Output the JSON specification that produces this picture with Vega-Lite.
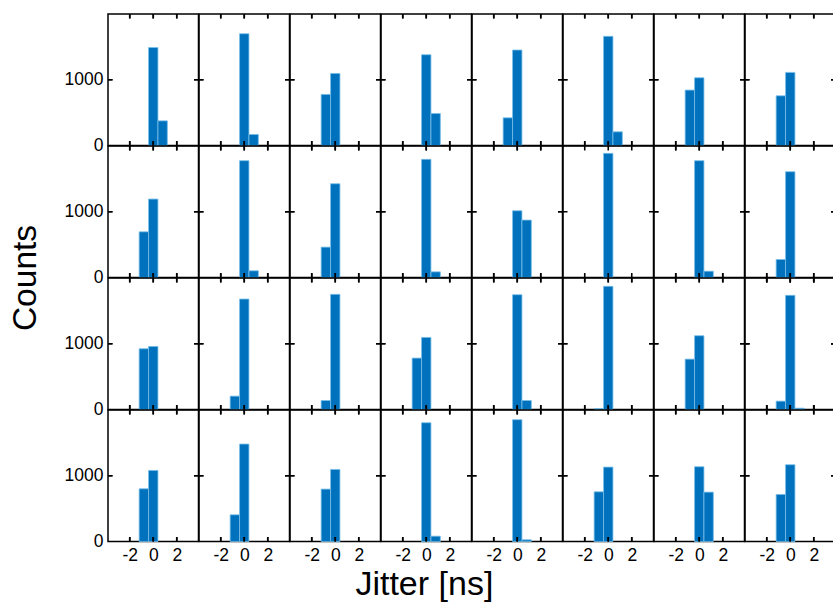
{
  "$schema": "https://vega.github.io/schema/vega-lite/v6.json",
  "padding": {"left": 8, "top": 12, "right": 0, "bottom": 0},
  "data": {
    "values": [
      {"r": 1, "c": 1, "lo": -0.4, "hi": 0.4, "n": 1490},
      {"r": 1, "c": 1, "lo": 0.4, "hi": 1.2, "n": 375},
      {"r": 1, "c": 2, "lo": -0.4, "hi": 0.4, "n": 1700},
      {"r": 1, "c": 2, "lo": 0.4, "hi": 1.2, "n": 168},
      {"r": 1, "c": 3, "lo": -1.2, "hi": -0.4, "n": 777},
      {"r": 1, "c": 3, "lo": -0.4, "hi": 0.4, "n": 1096},
      {"r": 1, "c": 4, "lo": -0.4, "hi": 0.4, "n": 1381},
      {"r": 1, "c": 4, "lo": 0.4, "hi": 1.2, "n": 487},
      {"r": 1, "c": 5, "lo": -1.2, "hi": -0.4, "n": 421},
      {"r": 1, "c": 5, "lo": -0.4, "hi": 0.4, "n": 1452},
      {"r": 1, "c": 6, "lo": -0.4, "hi": 0.4, "n": 1660},
      {"r": 1, "c": 6, "lo": 0.4, "hi": 1.2, "n": 208},
      {"r": 1, "c": 7, "lo": -1.2, "hi": -0.4, "n": 843},
      {"r": 1, "c": 7, "lo": -0.4, "hi": 0.4, "n": 1030},
      {"r": 1, "c": 8, "lo": -1.2, "hi": -0.4, "n": 756},
      {"r": 1, "c": 8, "lo": -0.4, "hi": 0.4, "n": 1112},
      {"r": 2, "c": 1, "lo": -1.2, "hi": -0.4, "n": 695},
      {"r": 2, "c": 1, "lo": -0.4, "hi": 0.4, "n": 1193},
      {"r": 2, "c": 2, "lo": -0.4, "hi": 0.4, "n": 1777},
      {"r": 2, "c": 2, "lo": 0.4, "hi": 1.2, "n": 102},
      {"r": 2, "c": 3, "lo": -1.2, "hi": -0.4, "n": 462},
      {"r": 2, "c": 3, "lo": -0.4, "hi": 0.4, "n": 1426},
      {"r": 2, "c": 4, "lo": -0.4, "hi": 0.4, "n": 1797},
      {"r": 2, "c": 4, "lo": 0.4, "hi": 1.2, "n": 86},
      {"r": 2, "c": 5, "lo": -0.4, "hi": 0.4, "n": 1015},
      {"r": 2, "c": 5, "lo": 0.4, "hi": 1.2, "n": 873},
      {"r": 2, "c": 6, "lo": -0.4, "hi": 0.4, "n": 1888},
      {"r": 2, "c": 7, "lo": -0.4, "hi": 0.4, "n": 1777},
      {"r": 2, "c": 7, "lo": 0.4, "hi": 1.2, "n": 96},
      {"r": 2, "c": 8, "lo": -1.2, "hi": -0.4, "n": 274},
      {"r": 2, "c": 8, "lo": -0.4, "hi": 0.4, "n": 1609},
      {"r": 3, "c": 1, "lo": -1.2, "hi": -0.4, "n": 924},
      {"r": 3, "c": 1, "lo": -0.4, "hi": 0.4, "n": 959},
      {"r": 3, "c": 2, "lo": -1.2, "hi": -0.4, "n": 203},
      {"r": 3, "c": 2, "lo": -0.4, "hi": 0.4, "n": 1680},
      {"r": 3, "c": 3, "lo": -1.2, "hi": -0.4, "n": 137},
      {"r": 3, "c": 3, "lo": -0.4, "hi": 0.4, "n": 1751},
      {"r": 3, "c": 4, "lo": -1.2, "hi": -0.4, "n": 782},
      {"r": 3, "c": 4, "lo": -0.4, "hi": 0.4, "n": 1096},
      {"r": 3, "c": 5, "lo": -0.4, "hi": 0.4, "n": 1746},
      {"r": 3, "c": 5, "lo": 0.4, "hi": 1.2, "n": 137},
      {"r": 3, "c": 6, "lo": -1.2, "hi": -0.4, "n": 15},
      {"r": 3, "c": 6, "lo": -0.4, "hi": 0.4, "n": 1873},
      {"r": 3, "c": 7, "lo": -1.2, "hi": -0.4, "n": 766},
      {"r": 3, "c": 7, "lo": -0.4, "hi": 0.4, "n": 1122},
      {"r": 3, "c": 8, "lo": -1.2, "hi": -0.4, "n": 127},
      {"r": 3, "c": 8, "lo": -0.4, "hi": 0.4, "n": 1736},
      {"r": 3, "c": 8, "lo": 0.4, "hi": 1.2, "n": 20},
      {"r": 4, "c": 1, "lo": -1.2, "hi": -0.4, "n": 802},
      {"r": 4, "c": 1, "lo": -0.4, "hi": 0.4, "n": 1081},
      {"r": 4, "c": 2, "lo": -1.2, "hi": -0.4, "n": 406},
      {"r": 4, "c": 2, "lo": -0.4, "hi": 0.4, "n": 1482},
      {"r": 4, "c": 3, "lo": -1.2, "hi": -0.4, "n": 797},
      {"r": 4, "c": 3, "lo": -0.4, "hi": 0.4, "n": 1096},
      {"r": 4, "c": 4, "lo": -0.4, "hi": 0.4, "n": 1807},
      {"r": 4, "c": 4, "lo": 0.4, "hi": 1.2, "n": 81},
      {"r": 4, "c": 5, "lo": -0.4, "hi": 0.4, "n": 1853},
      {"r": 4, "c": 5, "lo": 0.4, "hi": 1.2, "n": 25},
      {"r": 4, "c": 6, "lo": -1.2, "hi": -0.4, "n": 756},
      {"r": 4, "c": 6, "lo": -0.4, "hi": 0.4, "n": 1132},
      {"r": 4, "c": 7, "lo": -0.4, "hi": 0.4, "n": 1137},
      {"r": 4, "c": 7, "lo": 0.4, "hi": 1.2, "n": 751},
      {"r": 4, "c": 8, "lo": -1.2, "hi": -0.4, "n": 716},
      {"r": 4, "c": 8, "lo": -0.4, "hi": 0.4, "n": 1168}
    ]
  },
  "title": {
    "text": "Jitter [ns]",
    "orient": "bottom",
    "anchor": "middle",
    "font": "Liberation Sans",
    "fontSize": 34,
    "fontWeight": "normal",
    "color": "black",
    "offset": 4,
    "dx": 2
  },
  "facet": {
    "row": {
      "field": "r",
      "type": "ordinal",
      "header": {
        "labels": false,
        "title": "Counts",
        "titleFont": "Liberation Sans",
        "titleFontSize": 33.5,
        "titleFontWeight": "normal",
        "titleColor": "black",
        "titlePadding": 11
      }
    },
    "column": {
      "field": "c",
      "type": "ordinal",
      "header": {"labels": false, "title": null}
    }
  },
  "spacing": 0,
  "bounds": "flush",
  "spec": {
    "width": 90.5,
    "height": 131.5,
    "layer": [
      {
        "mark": {"type": "rect", "color": "#0072BD", "stroke": "#79bfea", "strokeWidth": 0.8},
        "encoding": {
          "x": {
            "field": "lo",
            "type": "quantitative",
            "scale": {"domain": [-3.85, 3.85], "nice": false, "zero": false},
            "axis": {"values": [-2, 0, 2], "title": null, "grid": false, "labelExpr": "'' + datum.value"}
          },
          "x2": {"field": "hi"},
          "y": {
            "field": "n",
            "type": "quantitative",
            "scale": {"domain": [0, 2000], "nice": false},
            "axis": {"values": [0, 1000], "title": null, "grid": false, "labelExpr": "'' + datum.value"}
          },
          "y2": {"datum": 0}
        }
      },
      {"mark": {"type": "rule", "strokeWidth": 1.6, "color": "black", "opacity": 1},
       "encoding": {"x": {"datum": -2, "type": "quantitative"}, "y": {"datum": 0, "type": "quantitative"}, "y2": {"datum": 68}}},
      {"mark": {"type": "rule", "strokeWidth": 1.6, "color": "black", "opacity": 1},
       "encoding": {"x": {"datum": 0, "type": "quantitative"}, "y": {"datum": 0, "type": "quantitative"}, "y2": {"datum": 68}}},
      {"mark": {"type": "rule", "strokeWidth": 1.6, "color": "black", "opacity": 1},
       "encoding": {"x": {"datum": 2, "type": "quantitative"}, "y": {"datum": 0, "type": "quantitative"}, "y2": {"datum": 68}}},
      {"mark": {"type": "rule", "strokeWidth": 1.6, "color": "black", "opacity": 1},
       "encoding": {"x": {"datum": -2, "type": "quantitative"}, "y": {"datum": 2000, "type": "quantitative"}, "y2": {"datum": 1932}}},
      {"mark": {"type": "rule", "strokeWidth": 1.6, "color": "black", "opacity": 1},
       "encoding": {"x": {"datum": 0, "type": "quantitative"}, "y": {"datum": 2000, "type": "quantitative"}, "y2": {"datum": 1932}}},
      {"mark": {"type": "rule", "strokeWidth": 1.6, "color": "black", "opacity": 1},
       "encoding": {"x": {"datum": 2, "type": "quantitative"}, "y": {"datum": 2000, "type": "quantitative"}, "y2": {"datum": 1932}}},
      {"mark": {"type": "tick", "orient": "horizontal", "size": 9, "thickness": 1.6, "color": "black", "opacity": 1, "clip": true},
       "encoding": {"x": {"datum": -3.85, "type": "quantitative"}, "y": {"datum": 1000, "type": "quantitative"}}},
      {"mark": {"type": "tick", "orient": "horizontal", "size": 9, "thickness": 1.6, "color": "black", "opacity": 1, "clip": true},
       "encoding": {"x": {"datum": 3.85, "type": "quantitative"}, "y": {"datum": 1000, "type": "quantitative"}}}
    ]
  },
  "config": {
    "font": "Liberation Sans",
    "background": "white",
    "view": {"stroke": "black", "strokeWidth": 1.5},
    "axis": {
      "domain": false,
      "ticks": false,
      "grid": false,
      "title": null,
      "labelFont": "Liberation Sans",
      "labelFontSize": 17.5,
      "labelColor": "black"
    },
    "axisX": {"labelPadding": 4},
    "axisY": {"labelPadding": 5}
  }
}
